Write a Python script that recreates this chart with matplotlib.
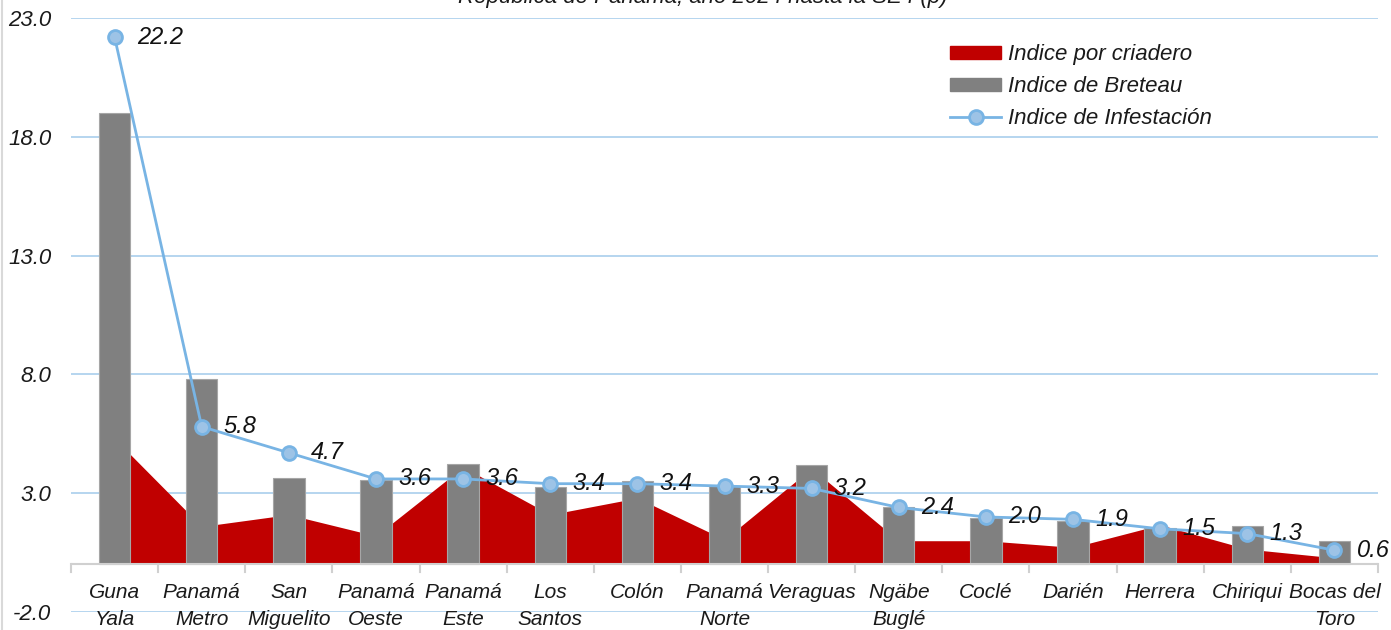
import matplotlib
matplotlib.use("Agg")
import matplotlib.pyplot as plt
from matplotlib.patches import Patch
from matplotlib.lines import Line2D
import numpy as np

categories = ["Guna\nYala", "Panamá\nMetro", "San\nMiguelito", "Panamá\nOeste", "Panamá\nEste",
              "Los\nSantos", "Colón", "Panamá\nNorte", "Veraguas", "Ngäbe\nBuglé", "Coclé",
              "Darién", "Herrera", "Chiriqui", "Bocas del\nToro"]
indice_criadero = [5.3, 1.6, 2.1, 1.2, 4.1, 2.1, 2.8, 1.05, 4.05, 1.0, 1.0, 0.72, 1.67, 0.65, 0.28]
indice_breteau = [19.0, 7.8, 3.65, 3.55, 4.25, 3.25, 3.5, 3.3, 4.2, 2.4, 1.97, 1.85, 1.55, 1.6, 0.98]
indice_infestacion = [22.2, 5.8, 4.7, 3.6, 3.6, 3.4, 3.4, 3.3, 3.2, 2.4, 2.0, 1.9, 1.5, 1.3, 0.6]
yticks = [-2.0, 3.0, 8.0, 13.0, 18.0, 23.0]
title = "República de Panamá, año 2024 hasta la SE4 (p)"

FONT = ['Liberation Sans Narrow', 'Liberation Sans', 'DejaVu Sans']
plt.rcParams['font.family'] = FONT

RED = '#C00000'
GRAY = '#808080'
LINEC = '#78B4E4'
MFACE = '#9DC3E6'
GRID = '#B0D2EE'
TXT = '#1a1a1a'

fig = plt.figure(figsize=(13.91, 6.30), dpi=100)
ax = fig.add_axes([71/1391, 1-612/630, (1378-71)/1391, (612-18)/630])

x = np.arange(len(categories))
ax.set_xlim(-0.5, len(categories)-0.5)
ax.set_ylim(-2, 23)

for t in yticks:
    ax.axhline(t, color=GRID, lw=1.3, zorder=0)

ax.fill_between(x, 0, indice_criadero, color=RED, lw=0, zorder=1, label='Indice por criadero')
ax.bar(x, indice_breteau, width=0.36, color=GRAY, edgecolor='#A6A6A6', linewidth=0.8, zorder=2,
       label='Indice de Breteau')
ax.plot(x, indice_infestacion, color=LINEC, lw=2.0, marker='o', markersize=10,
        markerfacecolor=MFACE, markeredgecolor=LINEC, markeredgewidth=2.0, zorder=4,
        label='Indice de Infestación')

for i, v in enumerate(indice_infestacion):
    ax.annotate(f"{v:.1f}", (x[i], v), xytext=(16, 0), textcoords='offset points',
                ha='left', va='center', fontsize=17, style='italic',
                color='#111111', zorder=5)

# x axis line at zero and ticks at category boundaries
ax.axhline(0, color='#D0D0D0', lw=1.5, zorder=3)
for b in np.arange(-0.5, len(categories), 1.0):
    ax.plot([b, b], [0, -0.32], color='#D0D0D0', lw=1.5, zorder=3, clip_on=False)

for i, c in enumerate(categories):
    ax.text(x[i], -0.78, c, ha='center', va='top', fontsize=15, style='italic',
            color=TXT, linespacing=1.5, zorder=5)

ax.set_xticks([])
ax.set_yticks(yticks)
ax.set_yticklabels([f"{t:.1f}" for t in yticks], fontsize=16, style='italic', color=TXT)
ax.tick_params(axis='y', length=0, pad=14)
for s in ax.spines.values():
    s.set_visible(False)

handles = [Patch(facecolor=RED, edgecolor=RED, label='Indice por criadero'),
           Patch(facecolor=GRAY, edgecolor=GRAY, label='Indice de Breteau'),
           Line2D([0], [0], color=LINEC, lw=2.0, marker='o', markersize=10,
                  markerfacecolor=MFACE, markeredgecolor=LINEC, markeredgewidth=2.0,
                  label='Indice de Infestación')]
leg = ax.legend(handles=handles, loc='upper left', bbox_to_anchor=((939-71)/1307, 1-(33-18)/594),
                frameon=False, fontsize=16, handlelength=2.3, handleheight=0.55,
                labelspacing=0.5, handletextpad=0.3, borderpad=0.0)
for t in leg.get_texts():
    t.set_style('italic')
    t.set_color(TXT)

fig.text(0.505, 1.0 + 13/630, title, ha='center', va='top', fontsize=16, style='italic',
         color=TXT)
fig.add_artist(Line2D([0.0015, 0.0015], [0, 1], transform=fig.transFigure, color='#D9D9D9', lw=1.5))

fig.savefig('out.png', dpi=100)
